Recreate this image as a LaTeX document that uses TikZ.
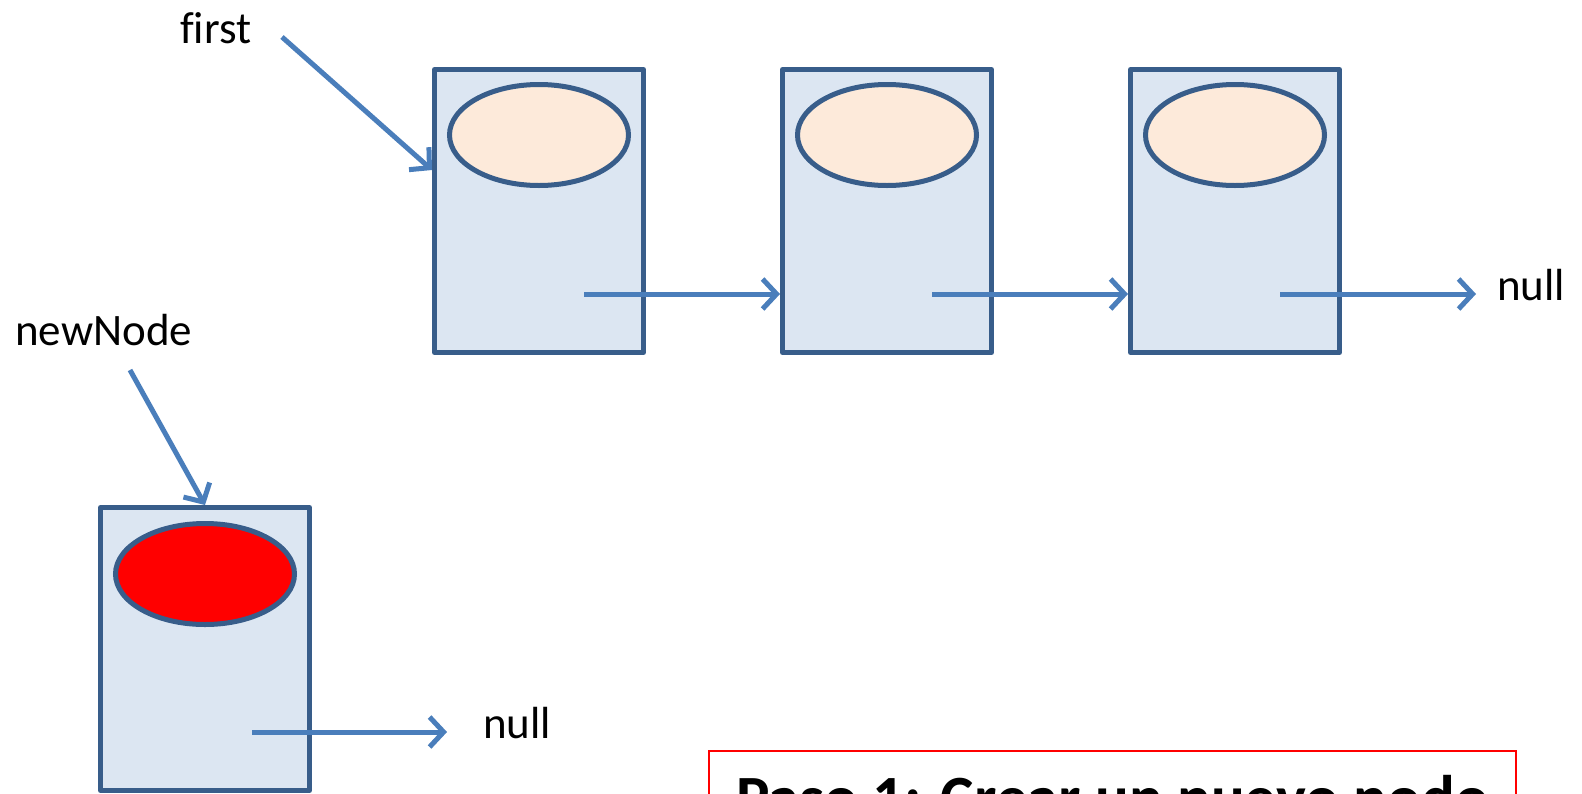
\documentclass[tikz,border=0pt]{standalone}
\usepackage{fontspec}
\setmainfont{Carlito}[Ligatures=CommonOff]
\usetikzlibrary{arrows.meta,shapes.geometric}
\definecolor{boxfill}{HTML}{DCE6F2}
\definecolor{boxline}{HTML}{385D8A}
\definecolor{ellfill}{HTML}{FDEADA}
\definecolor{arrowc}{HTML}{4A7EBB}
\definecolor{redc}{HTML}{FF0000}
\tikzset{
  listbox/.style={draw=boxline, fill=boxfill, line width=5pt, rectangle, minimum width=209pt, minimum height=283pt, inner sep=0pt, line join=round},
  dataell/.style={draw=boxline, line width=5pt, ellipse, minimum width=179pt, minimum height=101pt, inner sep=0pt},
  ptr/.style={draw=arrowc, line width=5pt, -{Straight Barb[length=14pt,width=30pt,line width=5pt]}},
  lbl/.style={font=\fontsize{45pt}{54pt}\selectfont, inner sep=0pt, anchor=base west},
  stepnote/.style={draw=redc, line width=2pt, rectangle, anchor=north west, minimum width=807pt, minimum height=110pt, inner xsep=10pt, inner ysep=27pt, text height=41pt, text depth=15pt, font=\fontsize{63pt}{70pt}\selectfont\bfseries}
}
\begin{document}
\begin{tikzpicture}[x=1pt,y=-1pt]
\useasboundingbox (0,0) rectangle (1582,793);
% list nodes
\node[listbox] (b1) at (539,211) {};
\node[listbox] (b2) at (887,211) {};
\node[listbox] (b3) at (1235,211) {};
\node[dataell, fill=ellfill] (e1) at (539,135) {};
\node[dataell, fill=ellfill] (e2) at (887,135) {};
\node[dataell, fill=ellfill] (e3) at (1235,135) {};
% new node
\node[listbox] (nb) at (205,649) {};
\node[dataell, fill=redc] (ne) at (205,574) {};
% labels
\node[lbl] (first) at (180,43) {first};
\node[lbl] (newnode) at (15,345) {newNode};
\node[lbl] (null1) at (1497,300) {null};
\node[lbl] (null2) at (483,738) {null};
% pointer coordinates
\coordinate (fs) at (282,37);
\coordinate (fe) at (432,170);
\coordinate (ns) at (130,370);
\coordinate (a1) at (584,294);
\coordinate (a2) at (932,294);
\coordinate (a3) at (1280,294);
\coordinate (a3e) at (1476,294);
\coordinate (a4) at (252,732);
\coordinate (a4e) at (447,732);
% arrows
\draw[ptr] (fs) -- (fe);
\draw[ptr] (ns) -- (nb.north);
\draw[ptr] (a1) -- (a1 -| b2.west);
\draw[ptr] (a2) -- (a2 -| b3.west);
\draw[ptr] (a3) -- (a3e);
\draw[ptr] (a4) -- (a4e);
% step note
\node[stepnote] (note) at (708,750) {Paso 1: Crear un nuevo nodo};
\end{tikzpicture}
\end{document}
